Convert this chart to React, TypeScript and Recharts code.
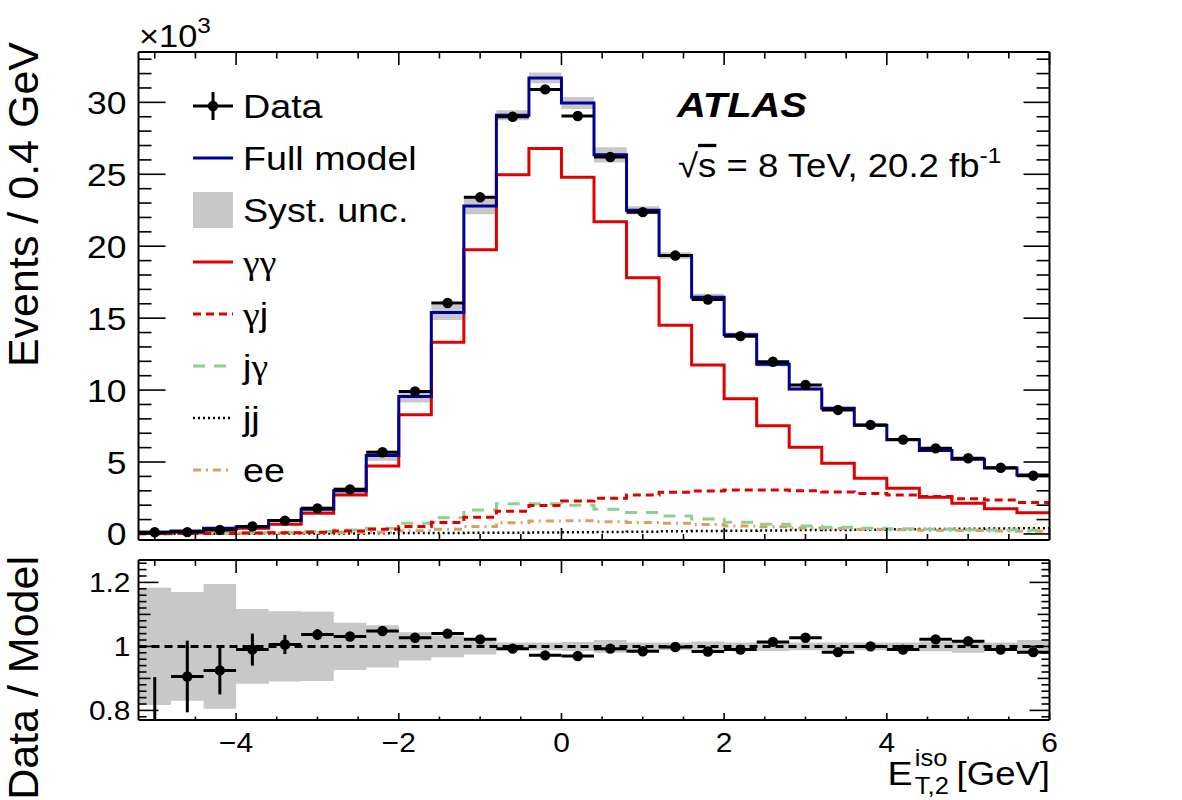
import React from 'react';
import { ComposedChart, Line, Area, Scatter, XAxis, YAxis, ErrorBar, ReferenceLine } from 'recharts';

// ---------------- data ----------------
const binEdges = [-5.2, -4.8, -4.4, -4.0, -3.6, -3.2, -2.8, -2.4, -2.0, -1.6, -1.2, -0.8, -0.4, 0.0, 0.4, 0.8, 1.2, 1.6, 2.0, 2.4, 2.8, 3.2, 3.6, 4.0, 4.4, 4.8, 5.2, 5.6, 6.0];
const binCenters = [-5.0, -4.6, -4.2, -3.8, -3.4, -3.0, -2.6, -2.2, -1.8, -1.4, -1.0, -0.6, -0.2, 0.2, 0.6, 1.0, 1.4, 1.8, 2.2, 2.6, 3.0, 3.4, 3.8, 4.2, 4.6, 5.0, 5.4, 5.8];
const binHalfWidth = 0.2;

// events per bin, in units of 10^3
const dataCounts = [0.12, 0.13, 0.28, 0.52, 0.93, 1.78, 3.1, 5.68, 9.9, 16.05, 23.4, 29.0, 30.9, 29.05, 26.2, 22.37, 19.35, 16.3, 13.75, 11.97, 10.36, 8.62, 7.58, 6.56, 5.95, 5.26, 4.6, 4.05];
const fullModel = [0.12, 0.2, 0.4, 0.5, 0.93, 1.72, 3.0, 5.45, 9.55, 15.4, 22.8, 29.1, 31.7, 29.95, 26.35, 22.5, 19.35, 16.45, 13.84, 11.8, 10.08, 8.74, 7.55, 6.54, 5.8, 5.2, 4.58, 4.1];
const gammaGamma = [0.1, 0.15, 0.3, 0.4, 0.67, 1.44, 2.71, 4.73, 8.28, 13.33, 19.75, 24.97, 26.8, 24.8, 21.7, 17.8, 14.5, 11.75, 9.4, 7.53, 6.03, 4.92, 3.87, 3.18, 2.55, 2.13, 1.76, 1.48];
const gammaJet = [0.02, 0.03, 0.04, 0.06, 0.08, 0.12, 0.2, 0.33, 0.51, 0.79, 1.16, 1.58, 1.97, 2.29, 2.48, 2.71, 2.9, 2.99, 3.06, 3.06, 3.0, 2.92, 2.82, 2.71, 2.6, 2.45, 2.36, 2.18];
const jetGamma = [0.03, 0.05, 0.07, 0.09, 0.12, 0.17, 0.28, 0.4, 0.74, 1.13, 1.67, 2.1, 2.1, 2.0, 1.72, 1.5, 1.25, 1.04, 0.81, 0.67, 0.56, 0.46, 0.4, 0.36, 0.33, 0.3, 0.28, 0.26];
const jetJet = [0.01, 0.01, 0.02, 0.02, 0.03, 0.03, 0.04, 0.05, 0.06, 0.07, 0.08, 0.09, 0.1, 0.12, 0.14, 0.16, 0.19, 0.2, 0.23, 0.24, 0.27, 0.28, 0.3, 0.33, 0.34, 0.36, 0.38, 0.4];
const eeBkg = [0.02, 0.03, 0.04, 0.05, 0.06, 0.08, 0.1, 0.12, 0.22, 0.33, 0.51, 0.78, 0.9, 0.92, 0.85, 0.8, 0.74, 0.65, 0.56, 0.5, 0.42, 0.38, 0.33, 0.3, 0.26, 0.24, 0.2, 0.18];
const systRel = [0.183, 0.17, 0.195, 0.117, 0.11, 0.108, 0.074, 0.066, 0.044, 0.034, 0.025, 0.012, 0.012, 0.014, 0.02, 0.012, 0.012, 0.015, 0.012, 0.014, 0.012, 0.012, 0.012, 0.012, 0.015, 0.02, 0.012, 0.02];

const ratioValues = [0.70, 0.906, 0.925, 0.99, 1.006, 1.037, 1.031, 1.048, 1.027, 1.04, 1.022, 0.993, 0.972, 0.97, 0.993, 0.985, 0.998, 0.984, 0.99, 1.014, 1.027, 0.982, 1.0, 0.99, 1.022, 1.016, 0.99, 0.982];
const ratioErrors = [0.204, 0.112, 0.075, 0.05, 0.03, 0.017, 0.012, 0.009, 0.007, 0.006, 0.005, 0.004, 0.004, 0.004, 0.004, 0.004, 0.004, 0.005, 0.005, 0.006, 0.006, 0.007, 0.007, 0.008, 0.008, 0.009, 0.009, 0.01];

// ticks
const xTicks = [-5, -4.5, -4, -3.5, -3, -2.5, -2, -1.5, -1, -0.5, 0, 0.5, 1, 1.5, 2, 2.5, 3, 3.5, 4, 4.5, 5, 5.5, 6];
const xMajorTicks = [-4, -2, 0, 2, 4, 6];
const yTicks = [0, 1, 2, 3, 4, 5, 6, 7, 8, 9, 10, 11, 12, 13, 14, 15, 16, 17, 18, 19, 20, 21, 22, 23, 24, 25, 26, 27, 28, 29, 30, 31, 32, 33];
const yMajorTicks = [0, 5, 10, 15, 20, 25, 30];
const rTicks = [0.78, 0.8, 0.82, 0.84, 0.86, 0.88, 0.9, 0.92, 0.94, 0.96, 0.98, 1.0, 1.02, 1.04, 1.06, 1.08, 1.1, 1.12, 1.14, 1.16, 1.18, 1.2, 1.22, 1.24, 1.26];
const rMajorTicks = [0.8, 1.0, 1.2];
const rMidTicks = [0.9, 1.1];

const xDomain = [-5.2, 6];
const yDomain = [-0.42, 33.5];
const rDomain = [0.77, 1.27];

// ---------------- derived tables for the library ----------------
const lastBin = binCenters.length - 1;
const stepRows = binEdges.map((x, i) => {
  const j = Math.min(i, lastBin);
  return {
    x,
    model: fullModel[j],
    gg: gammaGamma[j],
    gj: gammaJet[j],
    jg: jetGamma[j],
    jj: jetJet[j],
    ee: eeBkg[j],
    band: [fullModel[j] * (1 - systRel[j]), fullModel[j] * (1 + systRel[j])],
  };
});
const pointRows = binCenters.map((x, i) => ({ x, y: dataCounts[i], ex: binHalfWidth }));
const ratioStepRows = binEdges.map((x, i) => {
  const j = Math.min(i, lastBin);
  return { x, band: [1 - systRel[j], 1 + systRel[j]] };
});
const ratioPoints = binCenters.map((x, i) => ({ x, y: ratioValues[i], ex: binHalfWidth, ey: ratioErrors[i] }));

// ---------------- styling ----------------
const W = 1182;
const SX = 1.108; // reference text is horizontally stretched
const FONT = "'Liberation Sans', Arial, Helvetica, sans-serif";
const SERIF = "'Liberation Serif', 'DejaVu Serif', serif";
const BLUE = '#000099';
const RED = '#e00000';
const GREEN = '#90cf90';
const ORANGE = '#d9a060';
const GRAY = '#c8c8c8';
const frameLine = { stroke: '#000', strokeWidth: 2 };

const fmtNum = (v: number) => (v < 0 ? '\u2212' + String(Math.abs(v)) : String(v));
const fmtRatio = (v: number) => (Math.abs(v - 1) < 1e-9 ? '1' : v.toFixed(1));

type TickOpts = {
  side: 'bottom' | 'top' | 'left' | 'right';
  majors: number[];
  mids?: number[];
  majorLen: number;
  midLen?: number;
  minorLen: number;
  label?: { size: number; offset: number; fmt: (v: number) => string };
};

const has = (arr: number[] | undefined, v: number) => !!arr && arr.some((m) => Math.abs(m - v) < 1e-6);

function makeTick(o: TickOpts) {
  return (p: any) => {
    const { x, y, payload } = p;
    const v = payload.value;
    const isMajor = has(o.majors, v);
    const isMid = has(o.mids, v);
    const len = isMajor ? o.majorLen : isMid ? (o.midLen || o.minorLen) : o.minorLen;
    let x2 = x;
    let y2 = y;
    if (o.side === 'bottom') y2 = y - len;
    if (o.side === 'top') y2 = y + len;
    if (o.side === 'left') x2 = x + len;
    if (o.side === 'right') x2 = x - len;
    let label: React.ReactNode = null;
    if (o.label && isMajor) {
      const s = o.label.size;
      if (o.side === 'left') {
        label = (
          <text transform={`translate(${x - o.label.offset},${y + s * 0.36}) scale(${SX},1)`} textAnchor="end" fontSize={s} fontFamily={FONT} fill="#000">
            {o.label.fmt(v)}
          </text>
        );
      } else if (o.side === 'bottom') {
        label = (
          <text transform={`translate(${x},${y + o.label.offset}) scale(${SX},1)`} textAnchor="middle" fontSize={s} fontFamily={FONT} fill="#000">
            {o.label.fmt(v)}
          </text>
        );
      }
    }
    return (
      <g>
        <line x1={x} y1={y} x2={x2} y2={y2} stroke="#000" strokeWidth={1.6} />
        {label}
      </g>
    );
  };
}

const DataDot = (p: any) => <circle cx={p.cx} cy={p.cy} r={5.2} fill="#000" />;

// ---------------- legend / annotation overlay ----------------
const legendYs = [106, 158, 210, 262, 314, 366, 418, 470];
const LX0 = 193;
const LX1 = 233;
const LTX = 243;
const LFS = 34;
const TITLE_FS = 43;

function LegendText({ y, children }: { y: number; children: React.ReactNode }) {
  return (
    <text transform={`translate(${LTX},${y + LFS * 0.36}) scale(${SX},1)`} fontSize={LFS} fontFamily={FONT} fill="#000">
      {children}
    </text>
  );
}

function Overlay() {
  const gy = (t: string) => <tspan fontFamily={SERIF}>{t}</tspan>;
  return (
    <svg width={W} height={800} style={{ position: 'absolute', left: 0, top: 0, pointerEvents: 'none' }}>
      {/* x10^3 */}
      <text transform={`translate(139,47) scale(${SX},1)`} fontSize={31} fontFamily={FONT}>
        ×10<tspan fontSize={22} dy={-14}>3</tspan>
      </text>
      {/* y titles */}
      <text transform="translate(38,42) rotate(-90)" textAnchor="end" fontSize={TITLE_FS} fontFamily={FONT}>
        Events / 0.4 GeV
      </text>
      <text transform="translate(38,556) rotate(-90)" textAnchor="end" fontSize={TITLE_FS} fontFamily={FONT}>
        Data / Model
      </text>
      {/* x title */}
      <g transform={`translate(1050,785) scale(${SX},1)`}>
        <text textAnchor="end" fontSize={33} fontFamily={FONT}>[GeV]</text>
        <text x={-124} textAnchor="end" fontSize={34} fontFamily={FONT}>E</text>
        <text x={-122} y={-19} fontSize={23} fontFamily={FONT}>iso</text>
        <text x={-122} y={9} fontSize={23} fontFamily={FONT}>T,2</text>
      </g>
      {/* ATLAS label */}
      <text transform={`translate(677,117) scale(${SX},1)`} fontSize={36} fontFamily={FONT} fontWeight="bold" fontStyle="italic">
        ATLAS
      </text>
      <text transform={`translate(678,177) scale(${SX},1)`} fontSize={33} fontFamily={FONT}>
        √<tspan textDecoration="overline">s</tspan> = 8 TeV, 20.2 fb<tspan fontSize={22} dy={-14}>-1</tspan>
      </text>
      {/* legend */}
      <line x1={LX0} x2={LX1} y1={legendYs[0]} y2={legendYs[0]} stroke="#000" strokeWidth={3} />
      <line x1={(LX0 + LX1) / 2} x2={(LX0 + LX1) / 2} y1={legendYs[0] - 14} y2={legendYs[0] + 14} stroke="#000" strokeWidth={3} />
      <circle cx={(LX0 + LX1) / 2} cy={legendYs[0]} r={5.2} fill="#000" />
      <LegendText y={legendYs[0]}>Data</LegendText>
      <line x1={LX0} x2={LX1} y1={legendYs[1]} y2={legendYs[1]} stroke={BLUE} strokeWidth={3} />
      <LegendText y={legendYs[1]}>Full model</LegendText>
      <rect x={LX0} y={legendYs[2] - 18} width={LX1 - LX0} height={36} fill={GRAY} />
      <LegendText y={legendYs[2]}>Syst. unc.</LegendText>
      <line x1={LX0} x2={LX1} y1={legendYs[3]} y2={legendYs[3]} stroke={RED} strokeWidth={3} />
      <LegendText y={legendYs[3]}>{gy('γγ')}</LegendText>
      <line x1={LX0} x2={LX1} y1={legendYs[4]} y2={legendYs[4]} stroke={RED} strokeWidth={3} strokeDasharray="8 5" />
      <LegendText y={legendYs[4]}>{gy('γ')}j</LegendText>
      <line x1={LX0} x2={LX1} y1={legendYs[5]} y2={legendYs[5]} stroke={GREEN} strokeWidth={3} strokeDasharray="12 9" />
      <LegendText y={legendYs[5]}>j{gy('γ')}</LegendText>
      <line x1={LX0} x2={LX1} y1={legendYs[6]} y2={legendYs[6]} stroke="#000" strokeWidth={2.5} strokeDasharray="2 3" />
      <LegendText y={legendYs[6]}>jj</LegendText>
      <line x1={LX0} x2={LX1} y1={legendYs[7]} y2={legendYs[7]} stroke={ORANGE} strokeWidth={3} strokeDasharray="8 5 2 5" />
      <LegendText y={legendYs[7]}>ee</LegendText>
    </svg>
  );
}

// ---------------- charts ----------------
function TopPanel() {
  return (
    <ComposedChart width={W} height={560} data={stepRows} margin={{ top: 51, right: 131.5, bottom: 19, left: 137.5 }}>
      <XAxis xAxisId="b" dataKey="x" type="number" domain={xDomain} allowDataOverflow ticks={xTicks} interval={0} height={1}
        tickSize={0} tickMargin={0} tickLine={false} axisLine={frameLine}
        tick={makeTick({ side: 'bottom', majors: xMajorTicks, majorLen: 12, minorLen: 6 })} />
      <XAxis xAxisId="t" orientation="top" dataKey="x" type="number" domain={xDomain} allowDataOverflow ticks={xTicks} interval={0} height={1}
        tickSize={0} tickMargin={0} tickLine={false} axisLine={frameLine}
        tick={makeTick({ side: 'top', majors: xMajorTicks, majorLen: 13, minorLen: 6.5 })} />
      <YAxis yAxisId="l" type="number" domain={yDomain} allowDataOverflow ticks={yTicks} interval={0} width={1}
        tickSize={0} tickMargin={0} tickLine={false} axisLine={frameLine}
        tick={makeTick({ side: 'left', majors: yMajorTicks, majorLen: 27, minorLen: 13, label: { size: 32, offset: 12, fmt: fmtNum } })} />
      <YAxis yAxisId="r" orientation="right" type="number" domain={yDomain} allowDataOverflow ticks={yTicks} interval={0} width={1}
        tickSize={0} tickMargin={0} tickLine={false} axisLine={frameLine}
        tick={makeTick({ side: 'right', majors: yMajorTicks, majorLen: 26, minorLen: 13 })} />

      <Area xAxisId="b" yAxisId="l" dataKey="band" type="stepAfter" stroke="none" fill={GRAY} fillOpacity={1} isAnimationActive={false} />
      <Line xAxisId="b" yAxisId="l" dataKey="jj" type="stepAfter" stroke="#000" strokeWidth={2.5} strokeDasharray="2 3" dot={false} isAnimationActive={false} />
      <Line xAxisId="b" yAxisId="l" dataKey="ee" type="stepAfter" stroke={ORANGE} strokeWidth={3} strokeDasharray="8 5 2 5" dot={false} isAnimationActive={false} />
      <Line xAxisId="b" yAxisId="l" dataKey="jg" type="stepAfter" stroke={GREEN} strokeWidth={3} strokeDasharray="12 9" dot={false} isAnimationActive={false} />
      <Line xAxisId="b" yAxisId="l" dataKey="gj" type="stepAfter" stroke={RED} strokeWidth={3} strokeDasharray="8 5" dot={false} isAnimationActive={false} />
      <Line xAxisId="b" yAxisId="l" dataKey="gg" type="stepAfter" stroke={RED} strokeWidth={3} dot={false} isAnimationActive={false} />
      <Line xAxisId="b" yAxisId="l" dataKey="model" type="stepAfter" stroke={BLUE} strokeWidth={3} dot={false} isAnimationActive={false} />
      <Scatter xAxisId="b" yAxisId="l" data={pointRows} dataKey="y" shape={DataDot} isAnimationActive={false}>
        <ErrorBar dataKey="ex" direction="x" width={0} stroke="#000" strokeWidth={3} />
      </Scatter>
    </ComposedChart>
  );
}

function RatioPanel() {
  return (
    <ComposedChart width={W} height={260} data={ratioStepRows} margin={{ top: 19, right: 131.5, bottom: 79, left: 137.5 }}>
      <XAxis xAxisId="b" dataKey="x" type="number" domain={xDomain} allowDataOverflow ticks={xTicks} interval={0} height={1}
        tickSize={0} tickMargin={0} tickLine={false} axisLine={frameLine}
        tick={makeTick({ side: 'bottom', majors: xMajorTicks, majorLen: 7, minorLen: 3.5, label: { size: 27, offset: 32, fmt: fmtNum } })} />
      <XAxis xAxisId="t" orientation="top" dataKey="x" type="number" domain={xDomain} allowDataOverflow ticks={xTicks} interval={0} height={1}
        tickSize={0} tickMargin={0} tickLine={false} axisLine={frameLine}
        tick={makeTick({ side: 'top', majors: xMajorTicks, majorLen: 13, minorLen: 6 })} />
      <YAxis yAxisId="l" type="number" domain={rDomain} allowDataOverflow ticks={rTicks} interval={0} width={1}
        tickSize={0} tickMargin={0} tickLine={false} axisLine={frameLine}
        tick={makeTick({ side: 'left', majors: rMajorTicks, mids: rMidTicks, majorLen: 20, midLen: 12, minorLen: 8, label: { size: 27, offset: 8, fmt: fmtRatio } })} />
      <YAxis yAxisId="r" orientation="right" type="number" domain={rDomain} allowDataOverflow ticks={rTicks} interval={0} width={1}
        tickSize={0} tickMargin={0} tickLine={false} axisLine={frameLine}
        tick={makeTick({ side: 'right', majors: rMajorTicks, mids: rMidTicks, majorLen: 20, midLen: 12, minorLen: 8 })} />

      <Area xAxisId="b" yAxisId="l" dataKey="band" type="stepAfter" stroke="none" fill={GRAY} fillOpacity={1} isAnimationActive={false} />
      <ReferenceLine xAxisId="b" yAxisId="l" y={1} stroke="#000" strokeWidth={3} strokeDasharray="8 5" />
    </ComposedChart>
  );
}

// data/model points, in a frame-sized clipping box so that out-of-range errors stop at the frame
function RatioPoints() {
  return (
    <ComposedChart width={W} height={260} margin={{ top: 20, right: 132.5, bottom: 80, left: 138.5 }}>
      <XAxis xAxisId="b" dataKey="x" type="number" domain={xDomain} allowDataOverflow hide />
      <YAxis yAxisId="l" type="number" domain={rDomain} allowDataOverflow hide />
      <Scatter xAxisId="b" yAxisId="l" data={ratioPoints} dataKey="y" shape={DataDot} isAnimationActive={false}>
        <ErrorBar dataKey="ex" direction="x" width={0} stroke="#000" strokeWidth={3} />
        <ErrorBar dataKey="ey" direction="y" width={0} stroke="#000" strokeWidth={3} />
      </Scatter>
    </ComposedChart>
  );
}

export default function App() {
  return (
    <div style={{ position: 'absolute', left: 0, top: 0, width: W, height: 800, background: '#fff', overflow: 'hidden' }}>
      <div style={{ position: 'absolute', left: 0, top: 0 }}>
        <TopPanel />
      </div>
      <div style={{ position: 'absolute', left: 0, top: 540 }}>
        <RatioPanel />
      </div>
      <div style={{ position: 'absolute', left: 0, top: 540, width: W, height: 180, overflow: 'hidden' }}>
        <RatioPoints />
      </div>
      <Overlay />
    </div>
  );
}
